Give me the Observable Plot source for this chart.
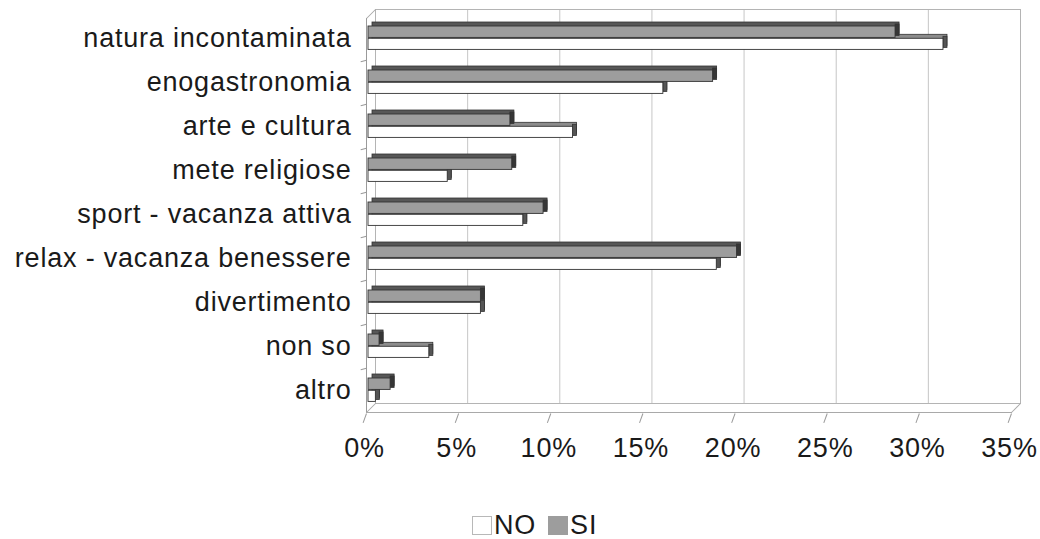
<!DOCTYPE html>
<html>
<head>
<meta charset="utf-8">
<script src="https://cdn.jsdelivr.net/npm/d3@7"></script>
<script src="https://cdn.jsdelivr.net/npm/@observablehq/plot@0.6"></script>
<style>
  html, body { margin: 0; padding: 0; background: #fff; }
  body { font-family: "Liberation Sans", Arial, sans-serif; width: 1040px; height: 539px; overflow: hidden; }
  #chart svg { display: block; }
  #chart svg text { letter-spacing: 0.8px; }
  .legend { height: 27px; margin-top: 22px; padding-left: 472px; font-size: 27px; line-height: 27px;
            color: #1a1a1a; letter-spacing: 0.8px; white-space: nowrap; }
  .legend .item { display: inline-block; margin-right: 12px; }
  .legend .sw { display: inline-block; width: 20px; height: 19px; box-sizing: border-box;
                vertical-align: -1px; margin-right: 2px; }
</style>
</head>
<body>
<div id="chart"></div>
<div class="legend" id="legend"></div>
<script>
// Motivazione della vacanza, risposte NO / SI (%)
const categories = [
  "natura incontaminata",
  "enogastronomia",
  "arte e cultura",
  "mete religiose",
  "sport - vacanza attiva",
  "relax - vacanza benessere",
  "divertimento",
  "non so",
  "altro"
];
const si = [28.6, 18.7, 7.7, 7.8, 9.5, 20.0, 6.1, 0.6, 1.2];
const no = [31.2, 16.0, 11.1, 4.3, 8.4, 18.9, 6.1, 3.3, 0.4];
const seriesNames = ["NO", "SI"];
const xTicks = [0, 5, 10, 15, 20, 25, 30, 35];

const rows = categories.map((category, i) => ({category, si: si[i], no: no[i]}));

// 3D look: depth of the walls and of the bars, in pixels
const depth = 9;
const barDepth = 4;
const plotTop = 13, plotBottom = 415, H = 490;
const step = (plotBottom - plotTop) / categories.length;

const look = {
  SI: {front: "#9d9d9d", top: "#575757", side: "#363636"},
  NO: {front: "#ffffff", top: "#8c8c8c", side: "#555555"}
};

// one bar = shifted dark block (top face), end face, front face
function bar3d(field, colors, insetTop, insetBottom) {
  return [
    Plot.barX(rows, {x1: () => 0, x2: field, y: "category", insetTop, insetBottom,
      dx: 2 + barDepth, dy: -barDepth, fill: colors.top, stroke: "#333", strokeWidth: 0.8}),
    Plot.barX(rows, {x1: field, x2: field, y: "category", insetTop, insetBottom,
      insetRight: -barDepth, dx: 2, dy: -barDepth / 2, fill: colors.side, stroke: "#333", strokeWidth: 0.8}),
    Plot.barX(rows, {x1: () => 0, x2: field, y: "category", insetTop, insetBottom,
      dx: 2, fill: colors.front, stroke: "#333", strokeWidth: 0.9})
  ];
}

const edge = {stroke: "#a9a9a9", strokeWidth: 1};
const slant = depth * Math.SQRT2;

const chart = Plot.plot({
  width: 1040,
  height: H,
  marginLeft: 366,
  marginRight: 29,
  marginTop: plotTop,
  marginBottom: H - plotBottom,
  style: {fontFamily: "'Liberation Sans', Arial, sans-serif", fontSize: "27px", color: "#1a1a1a", background: "#fff", overflow: "visible"},
  x: {domain: [0, 35], label: null},
  y: {domain: categories, padding: 0, label: null},
  marks: [
    // back wall and its gridlines
    Plot.ruleX(xTicks, {x: d => d, dx: depth, dy: -depth, insetTop: 5, insetBottom: 3, stroke: "#c6c6c6"}),
    Plot.frame({dx: depth, dy: -depth, insetTop: 5, insetBottom: 3, stroke: "#b4b4b4"}),
    // floor front edge and left wall front edge
    Plot.frame({anchor: "bottom", insetBottom: 3, ...edge}),
    Plot.ruleX([0], {x: d => d, insetTop: 5, insetBottom: 3, stroke: "#9a9a9a"}),
    // receding edges of floor and left wall
    Plot.vector([0, 35], {x: d => d, frameAnchor: "bottom", dy: -3, rotate: 45, length: slant,
      anchor: "start", r: 0, strokeWidth: 1, strokeLinecap: "butt", stroke: "#a9a9a9"}),
    Plot.vector([0], {x: d => d, frameAnchor: "top", dy: 5, rotate: 45, length: slant,
      anchor: "start", r: 0, strokeWidth: 1, strokeLinecap: "butt", stroke: "#a9a9a9"}),
    // x ticks below the floor
    Plot.vector(xTicks, {x: d => d, frameAnchor: "bottom", dy: -2, rotate: 200, length: 10,
      anchor: "start", r: 0, strokeWidth: 1, strokeLinecap: "butt", stroke: "#9a9a9a"}),
    // category separators on the left wall
    Plot.vector(categories.slice(1), {x: () => 0, y: d => d, dy: -step / 2, rotate: 255, length: 6,
      anchor: "start", r: 0, strokeWidth: 1, strokeLinecap: "butt", stroke: "#9a9a9a"}),
    // bars: NO below, SI above
    ...bar3d("no", look.NO, 22.3, 10.6),
    ...bar3d("si", look.SI, 10, 22.6),
    Plot.axisY({tickSize: 0, tickPadding: 15, label: null, fill: "#1a1a1a"}),
    Plot.axisX({ticks: xTicks, tickSize: 0, tickPadding: 22, dx: -2, label: null,
      tickFormat: d => d + "%", fill: "#1a1a1a"})
  ]
});
document.getElementById("chart").append(chart);

// legend below the chart
const legend = document.getElementById("legend");
[
  {name: seriesNames[0], fill: look.NO.front, border: "#b8b8b8"},
  {name: seriesNames[1], fill: look.SI.front, border: "#9d9d9d"}
].forEach(s => {
  const item = document.createElement("span");
  item.className = "item";
  const sw = document.createElement("span");
  sw.className = "sw";
  sw.style.background = s.fill;
  sw.style.border = "1px solid " + s.border;
  item.append(sw, document.createTextNode(s.name));
  legend.append(item);
});
</script>
</body>
</html>
